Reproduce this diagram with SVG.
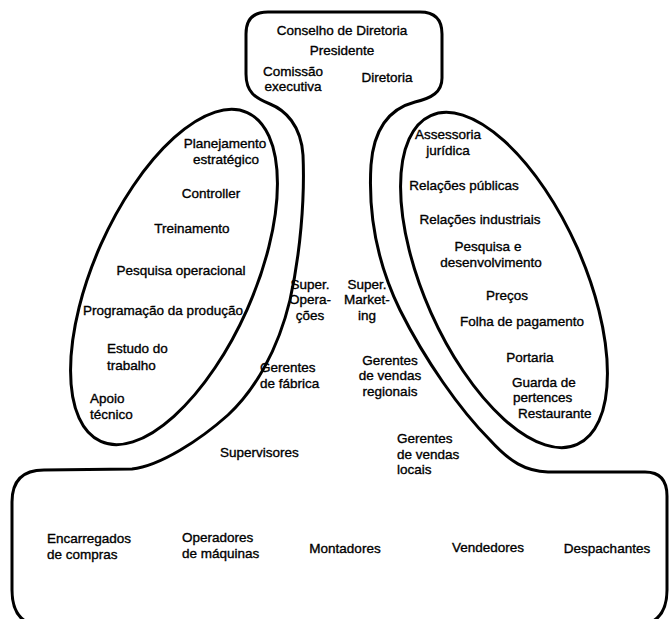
<svg xmlns="http://www.w3.org/2000/svg" width="669" height="619" viewBox="0 0 669 619">
<style>
.ln{fill:none;stroke:#000;stroke-width:3;stroke-linejoin:round;stroke-linecap:round}
text{font-family:"Liberation Sans",Arial,Helvetica,sans-serif;font-size:13.5px;fill:#000;stroke:#000;stroke-width:0.35}
.m{text-anchor:middle}
</style>
<rect width="669" height="619" fill="#fff"/>
<g id="outline">
<path class="ln" d="M246,34 Q246,12 268,12 L420,12 Q442,12 442,34 L442,78 C442,92 432,98 415,102 C392,108 374,125 371,165 C368,215 378,265 400,310 C425,360 460,410 490,440 C510,462 525,471 548,472 L645,472 Q667,472 667,496 L667,590 Q667,626 632,626 L45,626 Q12,626 12,590 L12,502 Q12,470 44,470 L132,469 C160,466 200,440 228,415 C255,390 278,350 290,300 C300,255 305,200 303,155 C301,125 285,110 270,104 C255,98 246,92 246,74 Z"/>
</g>
<g id="staff-left"><ellipse class="ln" cx="174" cy="277" rx="80" ry="180" transform="rotate(24 174 277)"/></g>
<g id="staff-right"><ellipse class="ln" cx="504" cy="280" rx="80" ry="180" transform="rotate(-24 504 280)"/></g>
<g id="connectors"></g>
<g id="top">
<text class="m" x="342" y="35">Conselho de Diretoria</text>
<text class="m" x="342" y="55">Presidente</text>
<text class="m" x="293" y="75.5">Comissão</text>
<text class="m" x="293" y="91">executiva</text>
<text class="m" x="387" y="82">Diretoria</text>
</g>
<g id="left-staff-items">
<text class="m" x="225" y="148">Planejamento</text>
<text class="m" x="226" y="163.5">estratégico</text>
<text class="m" x="211" y="198">Controller</text>
<text class="m" x="192" y="233">Treinamento</text>
<text class="m" x="181" y="275">Pesquisa operacional</text>
<text class="m" x="163" y="315">Programação da produção</text>
<text x="107" y="353">Estudo do</text>
<text x="107" y="370">trabalho</text>
<text x="90" y="403.25">Apoio</text>
<text x="90" y="418.75">técnico</text>
</g>
<g id="super-operacoes">
<text class="m" x="310" y="288.5">Super.</text>
<text class="m" x="310" y="304">Opera-</text>
<text class="m" x="310" y="319.5">ções</text>
</g>
<g id="super-marketing">
<text class="m" x="367" y="288.5">Super.</text>
<text class="m" x="367" y="304">Market-</text>
<text class="m" x="367" y="319.5">ing</text>
</g>
<g id="gerentes-fabrica">
<text x="260" y="372">Gerentes</text>
<text x="260" y="387.5">de fábrica</text>
</g>
<g id="gerentes-regionais">
<text class="m" x="390" y="364.5">Gerentes</text>
<text class="m" x="390" y="380">de vendas</text>
<text class="m" x="390" y="395.5">regionais</text>
</g>
<g id="supervisores"><text x="220" y="457">Supervisores</text></g>
<g id="gerentes-locais">
<text x="397" y="443">Gerentes</text>
<text x="397" y="458.5">de vendas</text>
<text x="397" y="474">locais</text>
</g>
<g id="right-staff-items">
<text class="m" x="448" y="139.25">Assessoria</text>
<text class="m" x="448" y="154.75">jurídica</text>
<text class="m" x="464" y="190">Relações públicas</text>
<text class="m" x="480" y="224">Relações industriais</text>
<text class="m" x="488" y="251.25">Pesquisa e</text>
<text class="m" x="491" y="266.75">desenvolvimento</text>
<text class="m" x="507" y="300">Preços</text>
<text class="m" x="522" y="326">Folha de pagamento</text>
<text class="m" x="530" y="362">Portaria</text>
<text x="512" y="386.5">Guarda de</text>
<text x="513" y="402">pertences</text>
<text x="518" y="417.5">Restaurante</text>
</g>
<g id="operating-level">
<text x="47" y="543.25">Encarregados</text>
<text x="47" y="558.75">de compras</text>
<text x="182" y="542.25">Operadores</text>
<text x="182" y="557.75">de máquinas</text>
<text class="m" x="345" y="553">Montadores</text>
<text class="m" x="488" y="552">Vendedores</text>
<text class="m" x="607" y="553">Despachantes</text>
</g>
</svg>
